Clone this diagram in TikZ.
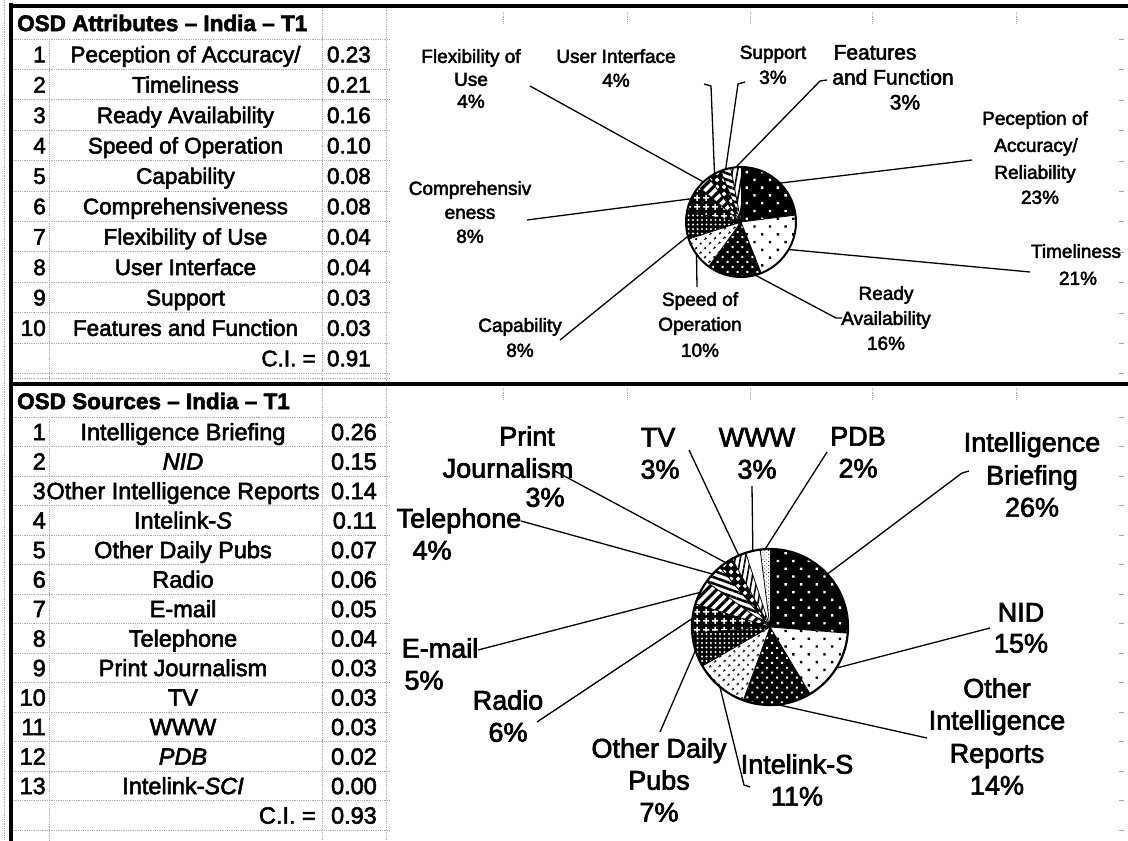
\documentclass[tikz,border=0pt]{standalone}
\usepackage{fontspec}
\setmainfont{Liberation Sans}[FakeBold=2.5]
\usetikzlibrary{calc,patterns.meta}

% radius of the pie being drawn
\newcommand{\pieR}{55}

% one pie slice, clockwise from angle #1 to angle #2, with fill style #3
\newcommand{\slc}[3]{%
  \path[#3] (0,0) -- (#1:\pieR) arc[start angle=#1, end angle=#2, radius=\pieR] -- cycle;}

% tile patterns for the black-and-white fills
\tikzdeclarepattern{
  name=plusses, type=uncolored,
  bounding box={(0pt,0pt) and (9pt,9pt)}, tile size={(9pt,9pt)},
  code={\fill (1.3pt,3.6pt) rectangle (7.7pt,5.4pt);
        \fill (3.6pt,1.3pt) rectangle (5.4pt,7.7pt);}}
\tikzdeclarepattern{
  name=lozenges, type=uncolored,
  bounding box={(0pt,0pt) and (7pt,7pt)}, tile size={(7pt,7pt)},
  code={\fill (3.5pt,0.9pt) -- (6.1pt,3.5pt) -- (3.5pt,6.1pt) -- (0.9pt,3.5pt) -- cycle;}}

\tikzset{
  patA/.style={fill=black, postaction={pattern={Dots[radius=1.7pt,distance=11pt,angle=45]}, pattern color=white}},
  patB/.style={fill=white, postaction={pattern={Dots[radius=1.7pt,distance=11pt,angle=45]}, pattern color=black}},
  patC/.style={fill=black, postaction={pattern={Dots[radius=1.4pt,distance=7pt,angle=45]}, pattern color=white}},
  patD/.style={fill=white, postaction={pattern={Dots[radius=1.4pt,distance=6.5pt,angle=45]}, pattern color=black}},
  patE/.style={fill=black, postaction={pattern={Dots[radius=1.1pt,distance=4.5pt]}, pattern color=white}},
  patF/.style={fill=black, postaction={pattern=plusses, pattern color=white}},
  patG/.style={fill=white, postaction={pattern={Lines[angle=45,distance=7pt,line width=3.2pt]}, pattern color=black}},
  patH/.style={fill=white, postaction={pattern={Lines[angle=-20,distance=6pt,line width=2.6pt]}, pattern color=black}},
  patI/.style={fill=black, postaction={pattern=lozenges, pattern color=white}},
  patJ/.style={fill=white, postaction={pattern={Lines[angle=80,distance=5pt,line width=1.6pt]}, pattern color=black}},
  patK/.style={fill=white},
  patL/.style={fill=white, postaction={pattern={Dots[radius=0.5pt,distance=2.6pt,angle=45]}, pattern color=black}}
}

\begin{document}
\begin{tikzpicture}[x=1pt,y=-1pt,
  gline/.style={gray!65, line width=0.8pt, densely dotted},
  heavy/.style={black, line width=3.5pt},
  leader/.style={black, line width=1.3pt},
  ttab/.style={font=\fontsize{22.5}{27}\selectfont, inner sep=0pt, text height=21.7pt, text depth=5.6pt},
  btab/.style={font=\fontsize{23.5}{28}\selectfont, inner sep=0pt, text height=22.7pt, text depth=5.9pt},
  thead/.style={font=\bfseries\fontsize{22.5}{27}\selectfont, inner sep=0pt, text height=21.7pt, text depth=5.6pt, anchor=west},
  plt/.style={font=\fontsize{19}{22}\selectfont, inner sep=0pt, text height=18.4pt, text depth=4.7pt},
  plf/.style={font=\fontsize{21}{25}\selectfont, inner sep=0pt, text height=20.3pt, text depth=5.3pt},
  plb/.style={font=\fontsize{27}{32}\selectfont, inner sep=0pt, text height=26.1pt, text depth=6.8pt}]
\useasboundingbox (0,0) rectangle (1128,841);
\fill[white] (0,0) rectangle (1128,841);

% ---------- spreadsheet grid ----------
\draw[gline] (4,0) -- (4,841);
\foreach \k in {0,...,11} {\draw[gline] (11,{39+\k*30.4}) -- (390,{39+\k*30.4});}
\draw[gline] (11,378) -- (390,378);
\draw[gline] (49,39) -- (49,384);
\draw[gline] (322,6) -- (322,384);
\draw[gline] (386,6) -- (386,384);
\foreach \k in {0,...,14} {\draw[gline] (11,{417+\k*29.5}) -- (390,{417+\k*29.5});}
\draw[gline] (49,417) -- (49,841);
\draw[gline] (322,384) -- (322,841);
\draw[gline] (386,384) -- (386,841);
\foreach \xx in {503,627,750,872,1016} {
  \draw[gline] (\xx,12) -- (\xx,24);
  \draw[gline] (\xx,388) -- (\xx,400);}
\foreach \yy in {39,69,100,130,161,191,221,252,282,313,343,373,417,446,476,505,535,564,594,623,653,682,712,741,771,800,830}
  {\draw[gray!70, line width=0.8pt] (1119,\yy) -- (1124,\yy);}

\draw[heavy] (11,3) -- (11,841);
\draw[heavy] (9.25,6) -- (1128,6);
\draw[heavy] (9.25,384) -- (1128,384);

% ---------- attribute table ----------
\node[thead] (hA) at (17,23) {OSD Attributes – India – T1};
\foreach \n/\t/\v [count=\k] in {1/{Peception of Accuracy/}/0.23, 2/Timeliness/0.21,
    3/Ready Availability/0.16, 4/Speed of Operation/0.10, 5/Capability/0.08,
    6/Comprehensiveness/0.08, 7/Flexibility of Use/0.04, 8/User Interface/0.04,
    9/Support/0.03, 10/Features and Function/0.03} {
  \pgfmathsetmacro{\yy}{54.2+(\k-1)*30.4}
  \node[ttab, anchor=east] (an\k) at (46,\yy) {\n};
  \node[ttab] (at\k) at (185.5,\yy) {\t};
  \node[ttab, anchor=east] (av\k) at (371,\yy) {\v};
}
\node[ttab, anchor=east] (aci) at (316,358.2) {C.I. =};
\node[ttab, anchor=east] (acv) at (371,358.2) {0.91};

% ---------- source table ----------
\node[thead] (hS) at (17,401) {OSD Sources – India – T1};
\foreach \n/\t/\v [count=\k] in {1/Intelligence Briefing/0.26, 2/\textit{NID}/0.15,
    3/Other Intelligence Reports/0.14, 4/Intelink-\textit{S}/0.11, 5/Other Daily Pubs/0.07,
    6/Radio/0.06, 7/E-mail/0.05, 8/Telephone/0.04, 9/Print Journalism/0.03,
    10/TV/0.03, 11/WWW/0.03, 12/\textit{PDB}/0.02, 13/Intelink-\textit{SCI}/0.00} {
  \pgfmathsetmacro{\yy}{431.75+(\k-1)*29.5}
  \node[btab, anchor=east] (sn\k) at (46,\yy) {\n};
  \node[btab] (st\k) at (183,\yy) {\t};
  \node[btab, anchor=east] (sv\k) at (377,\yy) {\v};
}
\node[btab, anchor=east] (sci) at (316,815.25) {C.I. =};
\node[btab, anchor=east] (scv) at (377,815.25) {0.93};

% ---------- attribute pie ----------
\begin{scope}[shift={(741,222)}, yscale=-1]
  \renewcommand{\pieR}{55}
  \slc{90}{7.2}{patA}
  \slc{7.2}{-68.4}{patB}
  \slc{-68.4}{-126}{patC}
  \slc{-126}{-162}{patD}
  \slc{-162}{-190.8}{patE}
  \slc{-190.8}{-219.6}{patF}
  \slc{-219.6}{-234}{patG}
  \slc{-234}{-248.4}{patI}
  \slc{-248.4}{-259.2}{patH}
  \slc{-259.2}{-270}{patJ}
  \foreach \a in {90,7.2,-68.4,-126,-162,-190.8,-219.6,-234,-248.4,-259.2}
    {\draw[black, line width=0.8pt] (0,0) -- (\a:\pieR);}
  \draw[black, line width=2pt] (0,0) circle[radius=\pieR];
  \coordinate (eFlex) at (133.2:\pieR);
  \coordinate (eUI) at (118.8:\pieR);
  \coordinate (eSup) at (106.2:\pieR);
  \coordinate (eFeat) at (95.4:\pieR);
  \coordinate (ePec) at (45:\pieR);
  \coordinate (eTim) at (-30:\pieR);
  \coordinate (eRdy) at (-75:\pieR);
  \coordinate (eSpd) at (-144:\pieR);
  \coordinate (eCap) at (195:\pieR);
  \coordinate (eCmp) at (155:\pieR);
\end{scope}

\node[plt] (lFlex1) at (471,56) {Flexibility of};
\node[plt] (lFlex2) at (471,79) {Use};
\node[plt] (lFlex3) at (471,101) {4\%};
\node[plt] (lUI1) at (616,56) {User Interface};
\node[plt] (lUI2) at (616,80) {4\%};
\node[plt] (lSup1) at (773,52) {Support};
\node[plt] (lSup2) at (773,77) {3\%};
\node[plf] (lFt1) at (875,52) {Features};
\node[plf] (lFt2) at (893,77) {and Function};
\node[plf] (lFt3) at (905,102) {3\%};
\node[plt] (lPc1) at (1035,118) {Peception of};
\node[plt] (lPc2) at (1036,145) {Accuracy/};
\node[plt] (lPc3) at (1035,172) {Reliability};
\node[plt] (lPc4) at (1040,197) {23\%};
\node[plt] (lTm1) at (1076,251) {Timeliness};
\node[plt] (lTm2) at (1078,278) {21\%};
\node[plt] (lRd1) at (886,293) {Ready};
\node[plt] (lRd2) at (886,318) {Availability};
\node[plt] (lRd3) at (886,343) {16\%};
\node[plt] (lSp1) at (700,299) {Speed of};
\node[plt] (lSp2) at (700,324) {Operation};
\node[plt] (lSp3) at (700,350) {10\%};
\node[plt] (lCa1) at (520,325) {Capability};
\node[plt] (lCa2) at (520,350) {8\%};
\node[plt] (lCm1) at (470,188) {Comprehensiv};
\node[plt] (lCm2) at (470,212) {eness};
\node[plt] (lCm3) at (470,236) {8\%};

\coordinate (aFlex) at (530,86);
\coordinate (aUI0) at (704,84);   \coordinate (aUI) at (711,86);
\coordinate (aSup0) at (745,82);  \coordinate (aSup) at (738,84);
\coordinate (aFt0) at (827,80);   \coordinate (aFt) at (820,81);
\coordinate (aPec) at (972,160);
\coordinate (aTim) at (1030,272);
\coordinate (aRd) at (836,318);   \coordinate (aRd0) at (842,318);
\coordinate (aSp) at (697,287);
\coordinate (aCa) at (560,340);
\coordinate (aCm) at (527,220);
\draw[leader] (aFlex) -- (eFlex);
\draw[leader] (aUI0) -- (aUI) -- (eUI);
\draw[leader] (aSup0) -- (aSup) -- (eSup);
\draw[leader] (aFt0) -- (aFt) -- (eFeat);
\draw[leader] (ePec) -- (aPec);
\draw[leader] (eTim) -- (aTim);
\draw[leader] (eRdy) -- (aRd) -- (aRd0);
\draw[leader] (eSpd) -- (aSp);
\draw[leader] (aCa) -- (eCap);
\draw[leader] (aCm) -- (eCmp);

% ---------- source pie ----------
\begin{scope}[shift={(770,627)}, yscale=-1]
  \renewcommand{\pieR}{78}
  \slc{90}{-4.55}{patA}
  \slc{-4.55}{-59.09}{patB}
  \slc{-59.09}{-110}{patC}
  \slc{-110}{-150}{patD}
  \slc{-150}{-175.45}{patE}
  \slc{-175.45}{-197.27}{patF}
  \slc{-197.27}{-215.45}{patG}
  \slc{-215.45}{-230}{patH}
  \slc{-230}{-240.91}{patI}
  \slc{-240.91}{-251.82}{patJ}
  \slc{-251.82}{-262.73}{patK}
  \slc{-262.73}{-270}{patL}
  \foreach \a in {90,-4.55,-59.09,-110,-150,-175.45,-197.27,-215.45,-230,-240.91,-251.82,-262.73}
    {\draw[black, line width=0.8pt] (0,0) -- (\a:\pieR);}
  \draw[black, line width=2.2pt] (0,0) circle[radius=\pieR];
  \coordinate (eIB) at (42.7:\pieR);
  \coordinate (eNID) at (-31.8:\pieR);
  \coordinate (eOIR) at (-84.5:\pieR);
  \coordinate (eIS) at (-130:\pieR);
  \coordinate (eODP) at (-162.7:\pieR);
  \coordinate (eRad) at (173.6:\pieR);
  \coordinate (eEml) at (153.6:\pieR);
  \coordinate (eTel) at (137.3:\pieR);
  \coordinate (ePrt) at (124.5:\pieR);
  \coordinate (eTV) at (113.6:\pieR);
  \coordinate (eWWW) at (102.7:\pieR);
  \coordinate (ePDB) at (93.6:\pieR);
\end{scope}

\node[plb] (lPr1) at (527,436) {Print};
\node[plb] (lPr2) at (508,468) {Journalism};
\node[plb] (lPr3) at (545,497) {3\%};
\node[plb] (lTV1) at (658,437) {TV};
\node[plb] (lTV2) at (660,469) {3\%};
\node[plb] (lW1) at (757,437) {WWW};
\node[plb] (lW2) at (757,469) {3\%};
\node[plb] (lPD1) at (858,436) {PDB};
\node[plb] (lPD2) at (858,468) {2\%};
\node[plb] (lIB1) at (1032,442) {Intelligence};
\node[plb] (lIB2) at (1032,475) {Briefing};
\node[plb] (lIB3) at (1032,507) {26\%};
\node[plb] (lN1) at (1021,612) {NID};
\node[plb] (lN2) at (1021,643) {15\%};
\node[plb] (lO1) at (997,688) {Other};
\node[plb] (lO2) at (997,720) {Intelligence};
\node[plb] (lO3) at (997,753) {Reports};
\node[plb] (lO4) at (997,785) {14\%};
\node[plb] (lIS1) at (797,764) {Intelink-S};
\node[plb] (lIS2) at (797,796) {11\%};
\node[plb] (lOD1) at (659,748) {Other Daily};
\node[plb] (lOD2) at (659,780) {Pubs};
\node[plb] (lOD3) at (659,812) {7\%};
\node[plb] (lRa1) at (508,700) {Radio};
\node[plb] (lRa2) at (508,732) {6\%};
\node[plb] (lEm1) at (440,648) {E-mail};
\node[plb] (lEm2) at (424,680) {5\%};
\node[plb] (lTe1) at (459,518) {Telephone};
\node[plb] (lTe2) at (432,550) {4\%};

\coordinate (bPr) at (555,471);
\coordinate (bTV) at (689,450);
\coordinate (bWWW) at (752,486);
\coordinate (bPDB) at (827,452);
\coordinate (bIB0) at (969,471);  \coordinate (bIB) at (962,473);
\coordinate (bN) at (990,628);
\coordinate (bO) at (927,738);
\coordinate (bIS0) at (750,787);  \coordinate (bIS) at (744,785);
\coordinate (bOD) at (660,732);
\coordinate (bRa) at (537,722);
\coordinate (bEm) at (478,650);
\coordinate (bTe) at (521,521);
\draw[leader] (bPr) -- (ePrt);
\draw[leader] (bTV) -- (eTV);
\draw[leader] (bWWW) -- (eWWW);
\draw[leader] (bPDB) -- (ePDB);
\draw[leader] (bIB0) -- (bIB) -- (eIB);
\draw[leader] (bN) -- (eNID);
\draw[leader] (bO) -- (eOIR);
\draw[leader] (bIS0) -- (bIS) -- (eIS);
\draw[leader] (bOD) -- (eODP);
\draw[leader] (bRa) -- (eRad);
\draw[leader] (bEm) -- (eEml);
\draw[leader] (bTe) -- (eTel);
\end{tikzpicture}
\end{document}
